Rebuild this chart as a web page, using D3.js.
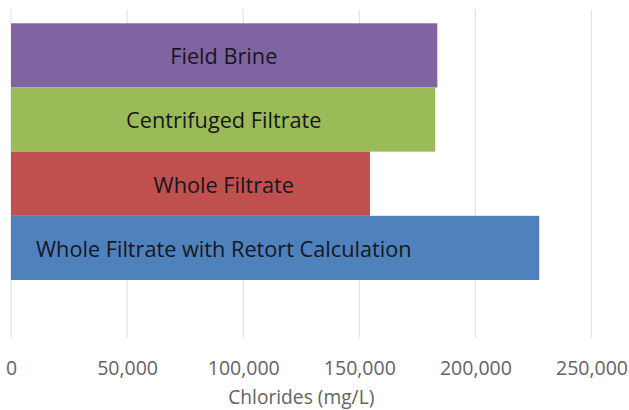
<!DOCTYPE html>
<html>
<head>
<meta charset="utf-8">
<script src="https://cdn.jsdelivr.net/npm/d3@7"></script>
<style>
  html, body { margin: 0; padding: 0; background: #ffffff; }
  svg { display: block; }
</style>
</head>
<body>
<svg id="chart" width="629" height="410"></svg>
<script>
// Chloride measurements by sample preparation method (mg/L)
const categories = [
  "Field Brine",
  "Centrifuged Filtrate",
  "Whole Filtrate",
  "Whole Filtrate with Retort Calculation"
];
const chlorides = [183600, 182700, 154600, 227500];
const barColors = ["#8064A2", "#9BBB59", "#C0504D", "#4F81BD"];
const tickValues = [0, 50000, 100000, 150000, 200000, 250000];
const axisTitle = "Chlorides (mg/L)";

const svg = d3.select("#chart");
const font = "'Open Sans', 'Liberation Sans', sans-serif";

const plot = { left: 11, right: 591.5, top: 9.5, bottom: 338 };
const barsTop = 23.3, barsBottom = 280;
const labelCenterX = 223.8;

const x = d3.scaleLinear().domain([0, 250000]).range([plot.left, plot.right]);
const y = d3.scaleBand().domain(categories).range([barsTop, barsBottom]).padding(0);

// vertical gridlines
svg.append("g")
  .selectAll("line")
  .data(tickValues)
  .join("line")
  .attr("x1", d => x(d)).attr("x2", d => x(d))
  .attr("y1", plot.top).attr("y2", plot.bottom)
  .attr("stroke", "#e3e3e3")
  .attr("stroke-width", 1.2);

// bars
svg.append("g")
  .selectAll("rect")
  .data(categories)
  .join("rect")
  .attr("x", x(0))
  .attr("y", d => y(d))
  .attr("width", (d, i) => x(chlorides[i]) - x(0))
  .attr("height", y.bandwidth())
  .attr("fill", (d, i) => barColors[i]);

// category labels inside the bars, sharing one centre line
svg.append("g")
  .selectAll("text")
  .data(categories)
  .join("text")
  .text(d => d)
  .attr("font-family", font)
  .attr("font-size", 21.7)
  .attr("fill", "#16161f")
  .attr("text-anchor", "middle")
  .attr("x", labelCenterX)
  .attr("y", d => y(d) + y.bandwidth() / 2 + 8.8);

// x axis tick labels
const axis = d3.axisBottom(x)
  .tickValues(tickValues)
  .tickFormat(d3.format(","))
  .tickSize(0)
  .tickPadding(0);

const axisG = svg.append("g")
  .attr("transform", `translate(0, 361)`)
  .call(axis);
axisG.select(".domain").remove();
axisG.selectAll("text")
  .attr("font-family", font)
  .attr("font-size", 19.5)
  .attr("fill", "#636363")
  .attr("dy", null)
  .attr("y", 14);

// axis title
svg.append("text")
  .attr("x", (plot.left + plot.right) / 2)
  .attr("y", 404)
  .attr("text-anchor", "middle")
  .attr("font-family", font)
  .attr("font-size", 19.2)
  .attr("fill", "#636363")
  .text(axisTitle);
</script>
</body>
</html>
